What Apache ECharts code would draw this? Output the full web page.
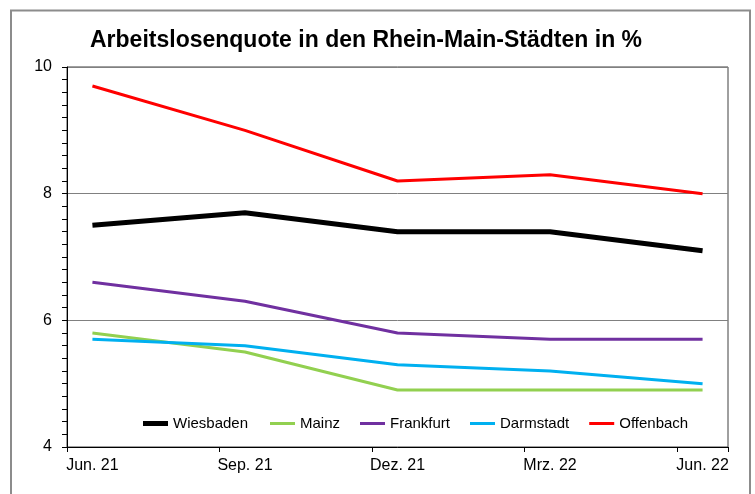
<!DOCTYPE html>
<html>
<head>
<meta charset="utf-8">
<script src="https://cdn.jsdelivr.net/npm/echarts@6/dist/echarts.min.js"></script>
<style>html,body{margin:0;padding:0;background:#fff}#c{width:755px;height:494px}</style>
</head>
<body>
<div id="c"></div>
<script>
// Quarterly tick labels (monthly date axis, every 3rd month labelled)
const categories = ['Jun. 21', 'Sep. 21', 'Dez. 21', 'Mrz. 22', 'Jun. 22'];
const monthsPerStep = 3;

const wiesbaden = [7.5, 7.7, 7.4, 7.4, 7.1];
const mainz     = [5.8, 5.5, 4.9, 4.9, 4.9];
const frankfurt = [6.6, 6.3, 5.8, 5.7, 5.7];
const darmstadt = [5.7, 5.6, 5.3, 5.2, 5.0];
const offenbach = [9.7, 9.0, 8.2, 8.3, 8.0];

const yTicks = [4, 6, 8, 10];

// Expand onto monthly slots (date axis like the original)
const nSlots = (categories.length - 1) * monthsPerStep + 1;
const slotLabels = [];
for (let i = 0; i < nSlots; i++) {
  slotLabels.push(i % monthsPerStep === 0 ? categories[i / monthsPerStep] : '');
}
function expand(vals) {
  const out = new Array(nSlots).fill(null);
  vals.forEach((v, i) => { out[i * monthsPerStep] = v; });
  return out;
}

const FONT = "'Liberation Sans', Arial, sans-serif";
const chart = echarts.init(document.getElementById('c'), null, {renderer: 'canvas'});

function mk(name, data, color, width) {
  return {
    name: name, type: 'line', data: expand(data), connectNulls: true,
    showSymbol: false, symbol: 'none', animation: false,
    lineStyle: {color: color, width: width}, itemStyle: {color: color},
    z: 3
  };
}

const legendText = {fontFamily: FONT, fontSize: 15, color: '#000'};

chart.setOption({
  animation: false,
  backgroundColor: '#fff',
  graphic: [{
    type: 'rect', shape: {x: 11, y: 10.5, width: 739, height: 520},
    style: {fill: 'none', stroke: '#8c8c8c', lineWidth: 2}, silent: true
  }],
  title: {
    text: 'Arbeitslosenquote in den Rhein-Main-Städten in %',
    left: 85, top: 24,
    textStyle: {fontFamily: FONT, fontSize: 23, fontWeight: 'bold', color: '#000'}
  },
  grid: {left: 67, right: 27, top: 67, bottom: 47, show: true,
         borderColor: '#404040', borderWidth: 1, backgroundColor: 'transparent'},
  legend: [{
    left: 138, top: 411, itemWidth: 25, itemHeight: 5, icon: 'rect',
    textStyle: legendText, data: ['Wiesbaden']
  }, {
    left: 265, top: 411, itemWidth: 25, itemHeight: 3, itemGap: 20, icon: 'rect',
    textStyle: legendText, data: ['Mainz', 'Frankfurt', 'Darmstadt', 'Offenbach']
  }],
  xAxis: {
    type: 'category', data: slotLabels, boundaryGap: true,
    axisLine: {lineStyle: {color: '#000', width: 1}},
    axisTick: {show: true, interval: monthsPerStep - 1, length: 5, lineStyle: {color: '#000'}},
    axisLabel: {interval: monthsPerStep - 1, margin: 11, fontFamily: FONT, fontSize: 16, color: '#000'},
    splitLine: {show: false}
  },
  yAxis: {
    type: 'value', min: yTicks[0], max: yTicks[yTicks.length - 1], interval: yTicks[1] - yTicks[0],
    axisLine: {show: true, lineStyle: {color: '#000', width: 1}},
    axisTick: {show: true, length: 5, lineStyle: {color: '#000'}},
    minorTick: {show: true, splitNumber: 10, length: 5, lineStyle: {color: '#000'}},
    axisLabel: {margin: 15, fontFamily: FONT, fontSize: 16, color: '#000'},
    splitLine: {show: true, lineStyle: {color: '#808080', width: 1}}
  },
  series: [
    mk('Wiesbaden', wiesbaden, '#000000', 5),
    mk('Mainz', mainz, '#92D050', 3),
    mk('Frankfurt', frankfurt, '#7030A0', 3),
    mk('Darmstadt', darmstadt, '#00B0F0', 3),
    mk('Offenbach', offenbach, '#FF0000', 3)
  ]
});
</script>
</body>
</html>
